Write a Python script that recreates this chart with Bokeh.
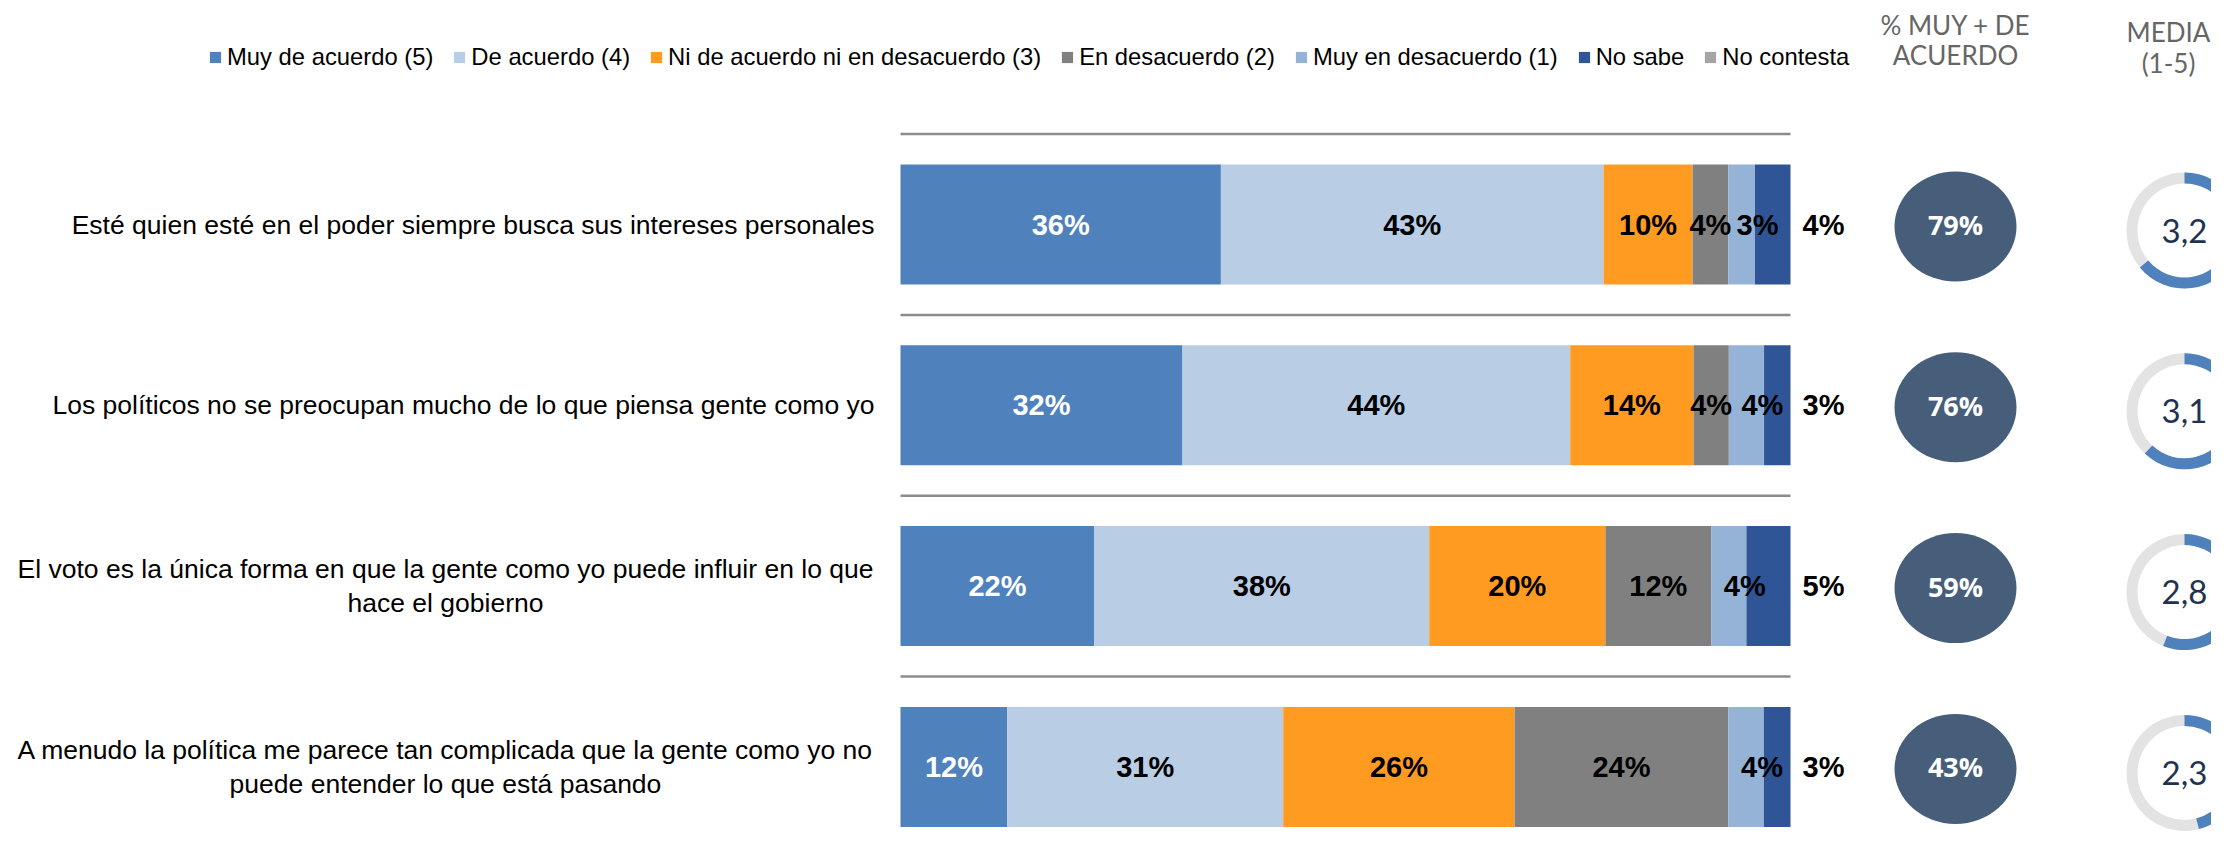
import math
from bokeh.plotting import figure
from bokeh.models import ColumnDataSource, Range1d, Legend, LegendItem
from bokeh.core.properties import value
from bokeh.embed import file_html
from bokeh.resources import INLINE

# ---------------- data ----------------
categories = [
    "Esté quien esté en el poder siempre busca sus intereses personales",
    "Los políticos no se preocupan mucho de lo que piensa gente como yo",
    "El voto es la única forma en que la gente como yo puede influir en lo que\nhace el gobierno",
    "A menudo la política me parece tan complicada que la gente como yo no\npuede entender lo que está pasando",
]
series_names = [
    "Muy de acuerdo (5)",
    "De acuerdo (4)",
    "Ni de acuerdo ni en desacuerdo (3)",
    "En desacuerdo (2)",
    "Muy en desacuerdo (1)",
    "No sabe",
    "No contesta",
]
muy_de_acuerdo = [36, 32, 22, 12]
de_acuerdo = [43, 44, 38, 31]
ni_de_acuerdo_ni_en_desacuerdo = [10, 14, 20, 26]
en_desacuerdo = [4, 4, 12, 24]
muy_en_desacuerdo = [3, 4, 4, 4]
no_sabe = [4, 3, 5, 3]
no_contesta = [0, 0, 0, 0]
pct_muy_mas_de_acuerdo = [79, 76, 59, 43]
media_1_5 = [3.2, 3.1, 2.8, 2.3]
header_pct = ["% MUY + DE", "ACUERDO"]
header_media = ["MEDIA", "(1-5)"]

series_values = [muy_de_acuerdo, de_acuerdo, ni_de_acuerdo_ni_en_desacuerdo,
                 en_desacuerdo, muy_en_desacuerdo, no_sabe, no_contesta]

# ---------------- style / layout ----------------
colors = ["#4F81BD", "#B9CDE5", "#FF9B21", "#808080", "#95B3D7", "#2F5597", "#A5A5A5"]
W, H = 2211, 839
PX_PER_PCT = 8.9
BAR_X0_PX = 900
ROW0_PX = 224
ROW_STEP_PX = 180.8
BAR_H_PX = 120


def px_to_x(px):
    return (px - BAR_X0_PX) / PX_PER_PCT


def px_to_y(py):
    return (ROW0_PX - py) / ROW_STEP_PX


CIRCLE_X = px_to_x(1955)
DONUT_X = px_to_x(2184)
MEDIA_HDR_X = px_to_x(2168)
LABEL_RIGHT_X = px_to_x(874)
WRAP_CENTER_X = px_to_x(445)

p = figure(width=W, height=H, output_backend="svg", toolbar_location=None,
           x_range=Range1d(px_to_x(0), px_to_x(W)),
           y_range=Range1d(px_to_y(H), px_to_y(0)),
           min_border=0, outline_line_color=None,
           background_fill_color="white", border_fill_color="white")
p.axis.visible = False
p.grid.visible = False

n = len(categories)
ys = [-i for i in range(n)]
totals = [sum(s[i] for s in series_values) for i in range(n)]

# separators above each row
p.segment(x0=[0] * n, x1=[100] * n, y0=[y + 0.5 for y in ys], y1=[y + 0.5 for y in ys],
          line_color="#8C8C8C", line_width=2.5)

# stacked bars (100%)
renderers = []
lab_x, lab_y, lab_t, lab_c, lab_off = [], [], [], [], []
cum = [0.0] * n
for k, (vals, col) in enumerate(zip(series_values, colors)):
    left = [cum[i] for i in range(n)]
    right = [cum[i] + vals[i] * 100.0 / totals[i] for i in range(n)]
    src = ColumnDataSource(dict(y=ys, left=left, right=right))
    r = p.hbar(y="y", left="left", right="right", height=BAR_H_PX / ROW_STEP_PX,
               source=src, fill_color=col, line_color=None)
    renderers.append(r)
    for i in range(n):
        if vals[i] > 0:
            if k == 5:
                lab_x.append(100.0)
                lab_off.append(33)
            else:
                lab_x.append((left[i] + right[i]) / 2)
                lab_off.append(16 if k == 4 else 0)
            lab_y.append(ys[i])
            lab_t.append(f"{vals[i]}%")
            lab_c.append("white" if k == 0 else "black")
    cum = right

p.text(x="x", y="y", text="t", text_color="c", x_offset="o",
       source=ColumnDataSource(dict(x=lab_x, y=lab_y, t=lab_t, c=lab_c, o=lab_off)),
       text_font=value("Liberation Sans"), text_font_style="bold", text_font_size="29px",
       text_align="center", text_baseline="middle")

# category labels
cx = [WRAP_CENTER_X if "\n" in c else LABEL_RIGHT_X for c in categories]
ca = ["center" if "\n" in c else "right" for c in categories]
p.text(x="x", y="y", text="t", text_align="a",
       source=ColumnDataSource(dict(x=cx, y=ys, t=categories, a=ca)),
       text_font=value("Liberation Sans"), text_font_size="26.5px",
       text_color="black", text_baseline="middle", text_line_height=1.15)

# % muy + de acuerdo circles
p.ellipse(x=[CIRCLE_X] * n, y=[y - 2 / ROW_STEP_PX for y in ys], width=122, height=110,
          width_units="screen", height_units="screen", fill_color="#475E7A", line_color=None)
p.text(x=[CIRCLE_X] * n, y=ys, text=[f"{v}%" for v in pct_muy_mas_de_acuerdo],
       text_font=value("Open Sans"), text_font_style="bold", text_font_size="27px",
       text_color="white", text_align="center", text_baseline="middle")

# media donuts
yd = [y - 6 / ROW_STEP_PX for y in ys]
p.annulus(x=[DONUT_X] * n, y=yd, inner_radius=47, outer_radius=58,
          inner_radius_units="screen", outer_radius_units="screen",
          fill_color="#E3E3E3", line_color=None)
p.annular_wedge(x=[DONUT_X] * n, y=yd, inner_radius=47, outer_radius=58,
                inner_radius_units="screen", outer_radius_units="screen",
                start_angle=[math.pi / 2 - 2 * math.pi * m / 5 for m in media_1_5],
                end_angle=[math.pi / 2] * n,
                fill_color="#4F81BD", line_color=None)
p.text(x=[DONUT_X] * n, y=yd, text=[f"{m:.1f}".replace(".", ",") for m in media_1_5],
       text_font=value("Lato"), text_font_size="33px", text_color="#1F3350",
       text_align="center", text_baseline="middle")

# headers
p.text(x=[CIRCLE_X] * 2, y=[px_to_y(24), px_to_y(54)], text=header_pct,
       text_font=value("Lato"), text_font_size="26px", text_color="#666666",
       text_align="center", text_baseline="middle")
p.text(x=[MEDIA_HDR_X] * 2, y=[px_to_y(31), px_to_y(62)], text=header_media,
       text_font=value("Lato"), text_font_size="26px", text_color="#666666",
       text_align="center", text_baseline="middle")

# legend
legend = Legend(items=[LegendItem(label=nm, renderers=[r]) for nm, r in zip(series_names, renderers)],
                orientation="horizontal", location=(208, 768),
                glyph_width=14, glyph_height=14, label_standoff=5, spacing=19,
                padding=0, margin=0, border_line_alpha=0, background_fill_alpha=0,
                label_text_font="Liberation Sans", label_text_font_size="23.8px",
                label_text_color="black")
p.add_layout(legend)

open("out.html", "w").write(file_html(p, INLINE))
